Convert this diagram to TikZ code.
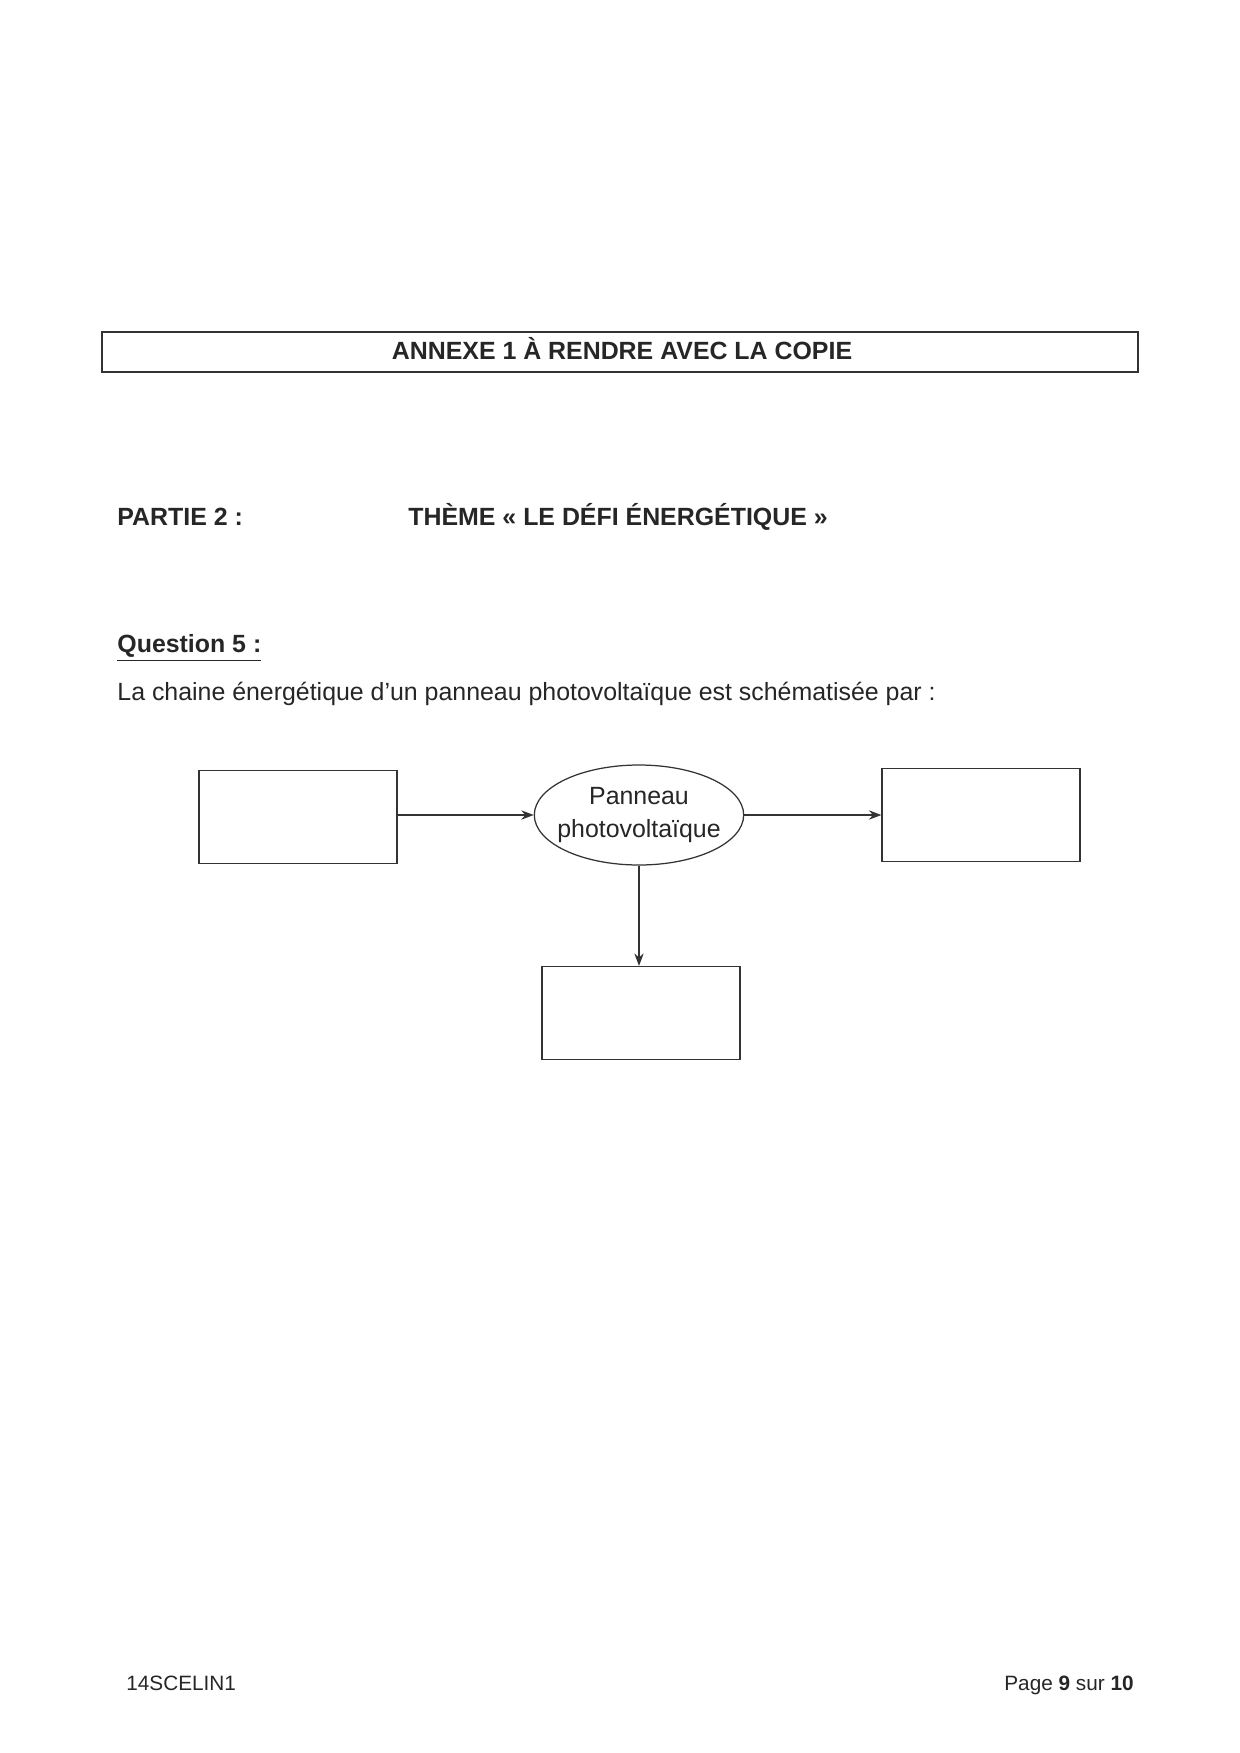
\documentclass[tikz,border=0pt]{standalone}
\usepackage{fontspec}
\setmainfont{Liberation Sans}
\usetikzlibrary{shapes.geometric,arrows.meta}
\begin{document}
\begin{tikzpicture}[x=0.16935mm,y=-0.16935mm,
  txt/.style={inner sep=0pt,font=\fontsize{12}{14}\selectfont,text=black!85},
  bold/.style={txt,font=\fontsize{12}{14}\selectfont\bfseries},
  foot/.style={inner sep=0pt,font=\fontsize{10}{12}\selectfont,text=black!85},
  blank/.style={draw=black!80,line width=0.6pt,minimum width=198*0.16935mm,minimum height=93*0.16935mm,inner sep=0pt},
  conv/.style={draw=black!80,line width=0.6pt,ellipse,inner xsep=-1.3mm,inner ysep=0pt,minimum width=209*0.16935mm,minimum height=100*0.16935mm,align=center,font=\fontsize{12}{16}\selectfont,text=black!85},
  flow/.style={draw=black!80,line width=0.6pt,-{Stealth[length=6pt,width=4.5pt]}}]
\useasboundingbox[fill=white] (0,0) rectangle (1240,1753);
% header
\node[draw=black!80,line width=0.7pt,minimum width=1036*0.16935mm,minimum height=40*0.16935mm,inner sep=0pt] (hdr) at (620,352) {};
\node[bold] (hdrtxt) at (622,349) {ANNEXE 1 À RENDRE AVEC LA COPIE};
\node[bold,anchor=west] (partie) at (117,517) {PARTIE 2 :};
\node[bold,anchor=west] (theme) at (408,517) {THÈME « LE DÉFI ÉNERGÉTIQUE »};
\node[bold,anchor=west] (quest) at (117,648) {\underline{Question 5 :}};
\node[txt,anchor=west] (intro) at (117,694) {La chaine énergétique d’un panneau photovoltaïque est schématisée par :};
% diagram
\node[blank] (in) at (298,817) {};
\node[conv] (pv) at (639,815) {Panneau\\photovoltaïque};
\node[blank] (out) at (981,815) {};
\node[blank] (loss) at (641,1013) {};
\draw[flow] (in.east |- pv.west) -- (pv.west);
\draw[flow] (pv.east) -- (out.west |- pv.east);
\draw[flow] (pv.south) -- (pv.south |- loss.north);
% footer
\node[foot,anchor=base west] (code) at (126,1690) {14SCELIN1};
\node[foot,anchor=base east] (page) at (1134,1690) {Page \textbf{9} sur \textbf{10}};
\end{tikzpicture}
\end{document}
